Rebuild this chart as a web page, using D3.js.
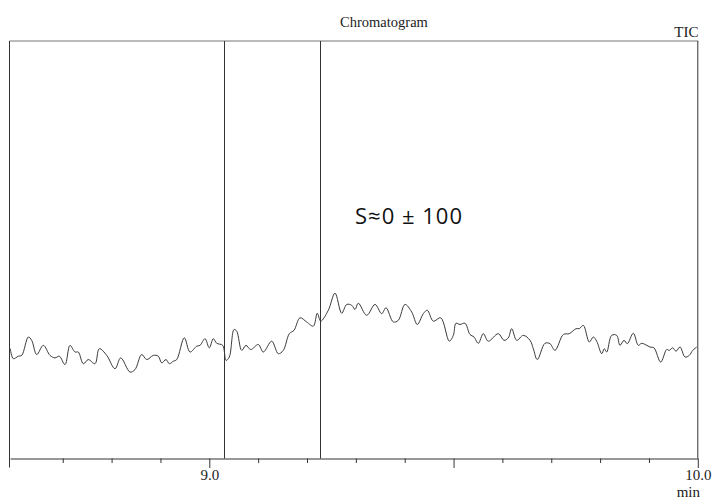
<!DOCTYPE html>
<html>
<head>
<meta charset="utf-8">
<script src="https://cdn.jsdelivr.net/npm/d3@7/dist/d3.min.js"></script>
<style>
  html, body { margin: 0; padding: 0; background: #fff; }
  svg { display: block; }
  .serif { font-family: "Liberation Serif", "DejaVu Serif", serif; fill: #222; }
</style>
</head>
<body>
<svg id="chart" width="713" height="498"></svg>
<script>
// Retention time (min) of each TIC sample
const times = [
  8.5925, 8.5988, 8.6090, 8.6160, 8.6295, 8.6364, 8.6467, 8.6602, 8.6739, 8.6841,
  8.6929, 8.7046, 8.7148, 8.7251, 8.7318, 8.7421, 8.7523, 8.7660, 8.7748, 8.7900,
  8.8070, 8.8186, 8.8377, 8.8479, 8.8616, 8.8719, 8.8854, 8.8956, 8.9026, 8.9114,
  8.9181, 8.9263, 8.9333, 8.9488, 8.9605, 8.9742, 8.9810, 8.9912, 9.0000, 9.0082,
  9.0151, 9.0274, 9.0342, 9.0409, 9.0506, 9.0561, 9.0663, 9.0751, 9.0847, 9.1003,
  9.1105, 9.1277, 9.1412, 9.1515, 9.1638, 9.1734, 9.1857, 9.1994, 9.2129, 9.2211,
  9.2280, 9.2436, 9.2573, 9.2710, 9.2813, 9.2915, 9.2983, 9.3050, 9.3222, 9.3392,
  9.3529, 9.3617, 9.3767, 9.3869, 9.4006, 9.4143, 9.4258, 9.4381, 9.4463, 9.4585,
  9.4737, 9.4913, 9.4995, 9.5050, 9.5132, 9.5234, 9.5337, 9.5419, 9.5507, 9.5609,
  9.5711, 9.5916, 9.6033, 9.6121, 9.6190, 9.6293, 9.6428, 9.6565, 9.6633, 9.6714,
  9.6872, 9.6974, 9.7077, 9.7247, 9.7369, 9.7507, 9.7574, 9.7656, 9.7779, 9.7861,
  9.7930, 9.8033, 9.8086, 9.8135, 9.8237, 9.8340, 9.8407, 9.8489, 9.8557, 9.8680,
  9.8782, 9.8852, 9.9022, 9.9103, 9.9241, 9.9363, 9.9417, 9.9486, 9.9554, 9.9636,
  9.9738, 9.9826, 9.9896, 9.9978
];

// Total ion current intensity (arbitrary units) at each time
const intensity = [
  263, 239, 245, 247, 291, 283, 249, 271, 247, 241,
  245, 225, 271, 255, 255, 227, 237, 227, 263, 247,
  215, 241, 207, 213, 249, 237, 247, 245, 229, 237,
  227, 233, 237, 289, 255, 269, 271, 287, 265, 287,
  276, 271, 235, 243, 309, 305, 259, 271, 261, 273,
  255, 281, 251, 259, 299, 307, 337, 327, 317, 348,
  329, 355, 396, 348, 369, 367, 357, 372, 343, 369,
  347, 361, 327, 331, 369, 351, 321, 347, 355, 329,
  337, 281, 295, 324, 321, 324, 297, 291, 276, 299,
  281, 299, 283, 289, 311, 283, 295, 283, 263, 237,
  276, 275, 259, 297, 299, 311, 311, 319, 279, 291,
  281, 251, 263, 255, 295, 295, 271, 283, 275, 300,
  271, 276, 267, 265, 231, 261, 259, 265, 257, 267,
  243, 247, 259, 267
];

// Integration window boundaries (min)
const markers = [9.030, 9.2266];

// Axis ticks
const minorTicks = [8.7, 8.8, 8.9, 9.1, 9.2, 9.3, 9.4, 9.6, 9.7, 9.8, 9.9];
const majorTicks = [9.0, 9.5, 10.0];
const tickLabels = { "9": "9.0", "10": "10.0" };

const titleText = "Chromatogram";
const traceName = "TIC";
const unitText = "min";
const noteText = "S\u22480 \u00B1 100";

(function draw() {
  const svg = d3.select("#chart");

  const plotLeft = 10, plotRight = 697.8, plotTop = 41, plotBottom = 458.5;

  const x = d3.scaleLinear().domain([8.592, 10.0]).range([plotLeft, plotRight]);
  const y = d3.scaleLinear().domain([0, 1000]).range([plotBottom, plotTop]);

  const points = times.map((t, i) => ({ t, v: intensity[i] }));

  // Frame
  svg.append("line")
    .attr("x1", plotLeft - 0.5).attr("x2", plotRight + 0.5)
    .attr("y1", plotTop).attr("y2", plotTop)
    .attr("stroke", "#777").attr("stroke-width", 1);
  svg.append("line")
    .attr("x1", plotLeft - 0.5).attr("x2", plotLeft - 0.5)
    .attr("y1", plotTop).attr("y2", 467.5)
    .attr("stroke", "#333").attr("stroke-width", 1);
  svg.append("line")
    .attr("x1", plotRight).attr("x2", plotRight)
    .attr("y1", plotTop).attr("y2", plotBottom)
    .attr("stroke", "#333").attr("stroke-width", 1);

  // Window markers
  svg.selectAll("line.marker")
    .data(markers)
    .join("line")
    .attr("class", "marker")
    .attr("x1", d => Math.round(x(d)) + 0.5)
    .attr("x2", d => Math.round(x(d)) + 0.5)
    .attr("y1", plotTop).attr("y2", plotBottom)
    .attr("stroke", "#333").attr("stroke-width", 1);

  // Trace
  const line = d3.line()
    .x(d => x(d.t))
    .y(d => y(d.v))
    .curve(d3.curveCatmullRom.alpha(0.5));

  svg.append("path")
    .datum(points)
    .attr("d", line)
    .attr("fill", "none")
    .attr("stroke", "#3a3a3a")
    .attr("stroke-width", 1);

  // Bottom axis: minor ticks
  const minorAxis = d3.axisBottom(x)
    .tickValues(minorTicks)
    .tickSize(4.5)
    .tickSizeOuter(0)
    .tickFormat("");
  svg.append("g")
    .attr("transform", `translate(0,${plotBottom})`)
    .call(minorAxis)
    .call(g => g.selectAll("path, line").attr("stroke", "#333"));

  // Bottom axis: major ticks with labels
  const majorAxis = d3.axisBottom(x)
    .tickValues(majorTicks)
    .tickSize(9.5)
    .tickSizeOuter(0)
    .tickFormat(d => tickLabels[String(d)] || "");
  svg.append("g")
    .attr("transform", `translate(0,${plotBottom})`)
    .call(majorAxis)
    .call(g => g.select(".domain").remove())
    .call(g => g.selectAll("line").attr("stroke", "#333"))
    .call(g => g.selectAll("text")
      .attr("class", "serif")
      .attr("y", 21).attr("dy", 0)
      .style("font-size", "15px"));

  // Texts
  svg.append("text")
    .attr("class", "serif")
    .attr("x", 384).attr("y", 26.5)
    .attr("text-anchor", "middle")
    .style("font-size", "14.5px")
    .text(titleText);

  svg.append("text")
    .attr("class", "serif")
    .attr("x", 698.5).attr("y", 36.5)
    .attr("text-anchor", "end")
    .style("font-size", "15px")
    .text(traceName);

  svg.append("text")
    .attr("class", "serif")
    .attr("x", 700).attr("y", 496.5)
    .attr("text-anchor", "end")
    .style("font-size", "15px")
    .text(unitText);

  svg.append("text")
    .attr("x", 355).attr("y", 223.5)
    .style("font-family", "'Open Sans', 'Noto Sans', sans-serif")
    .style("font-size", "22px")
    .attr("textLength", 107)
    .attr("lengthAdjust", "spacing")
    .attr("fill", "#111")
    .text(noteText);
})();
</script>
</body>
</html>
